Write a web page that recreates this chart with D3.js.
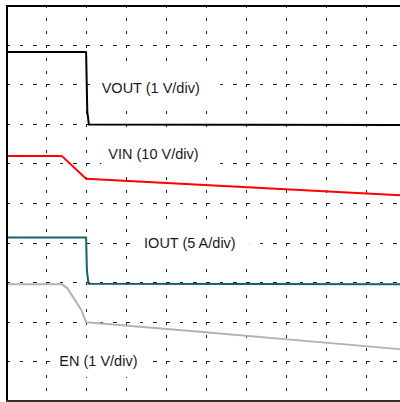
<!DOCTYPE html>
<html><head><meta charset="utf-8">
<script src="https://cdn.jsdelivr.net/npm/d3@7"></script>
<style>html,body{margin:0;padding:0;background:#fff;overflow:hidden}</style>
</head><body>
<svg id="c" width="400" height="402"></svg>
<script>
// ---- data (time and level in scope divisions) ----
const divTicksX = [0,1,2,3,4,5,6,7,8,9,10];
const divTicksY = [0,1,2,3,4,5,6,7,8,9,10];

const voutT = [0, 1.99, 2.02, 2.06, 10];
const voutV = [8.81, 8.81, 7.3, 6.98, 6.97];
const vinT  = [0, 1.38, 1.99, 4.83, 10];
const vinV  = [6.19, 6.19, 5.61, 5.46, 5.19];
const ioutT = [0, 1.99, 2.01, 2.05, 10];
const ioutV = [4.13, 4.13, 3.3, 2.96, 2.95];
const enT   = [0, 1.38, 1.52, 1.66, 1.87, 1.99, 4.83, 9.83, 10];
const enV   = [2.95, 2.95, 2.85, 2.63, 2.30, 1.99, 1.75, 1.31, 1.29];

const labelTexts = ["VOUT (1 V/div)", "VIN (10 V/div)", "IOUT (5 A/div)", "EN (1 V/div)"];
const labelT = [2.38, 2.545, 3.44, 1.32];
const labelV = [7.77, 6.10, 3.86, 0.88];

const seriesNames = ["VOUT","VIN","IOUT","EN"];
const seriesColors = ["#000000","#ff0000","#1b5f6b","#b3b3b3"];

// ---- drawing ----
const svg = d3.select("#c");
const x = d3.scaleLinear().domain([0,10]).range([6.5, 406.5]);
const y = d3.scaleLinear().domain([0,10]).range([401, 5]);

const g = svg.append("g");
// grid
g.selectAll("line.v").data(divTicksX.slice(1)).join("line")
  .attr("x1", d=>x(d)).attr("x2", d=>x(d))
  .attr("y1", y(10)).attr("y2", y(0))
  .attr("stroke", "#222").attr("stroke-width", 1)
  .attr("stroke-dasharray", "3,10.2")
  .attr("shape-rendering","crispEdges");
g.selectAll("line.h").data(divTicksY.slice(1,10)).join("line")
  .attr("x1", x(0)).attr("x2", x(10))
  .attr("y1", d=>Math.round(y(d))+0.5).attr("y2", d=>Math.round(y(d))+0.5)
  .attr("stroke", "#222").attr("stroke-width", 1)
  .attr("stroke-dasharray", "3.5,9.83")
  .attr("shape-rendering","crispEdges");

// label boxes + text
const labels = labelTexts.map((t,i)=>({t, tx:labelT[i], v:labelV[i]}));
const lg = svg.append("g");
const texts = lg.selectAll("text").data(labels).join("text")
  .attr("x", d=>x(d.tx)).attr("y", d=>y(d.v))
  .attr("font-family", "'Liberation Sans', Arial, Helvetica, sans-serif")
  .attr("font-size", 14.5).attr("fill", "#1a1a1a")
  .text(d=>d.t);
texts.each(function(d){
  const w = this.getComputedTextLength();
  lg.insert("rect","text")
    .attr("x", x(d.tx)-7).attr("y", y(d.v)-23)
    .attr("width", w+21).attr("height", 34)
    .attr("fill", "#fff");
});

// traces
const series = [[voutT,voutV],[vinT,vinV],[ioutT,ioutV],[enT,enV]];
const line = d3.line().x(d=>x(d[0])).y(d=>y(d[1]));
svg.append("g").selectAll("path").data(series).join("path")
  .attr("d", d=>line(d[0].map((t,i)=>[t,d[1][i]])))
  .attr("fill","none")
  .attr("stroke",(d,i)=>seriesColors[i])
  .attr("stroke-width",2)
  .attr("stroke-linejoin","round");

// frame
svg.append("line").attr("x1",7).attr("x2",7).attr("y1",5).attr("y2",402)
  .attr("stroke","#000").attr("stroke-width",2);
svg.append("line").attr("x1",6).attr("x2",400).attr("y1",6).attr("y2",6)
  .attr("stroke","#000").attr("stroke-width",2);
svg.append("line").attr("x1",6).attr("x2",400).attr("y1",401).attr("y2",401)
  .attr("stroke","#333").attr("stroke-width",2);
</script>
</body></html>
